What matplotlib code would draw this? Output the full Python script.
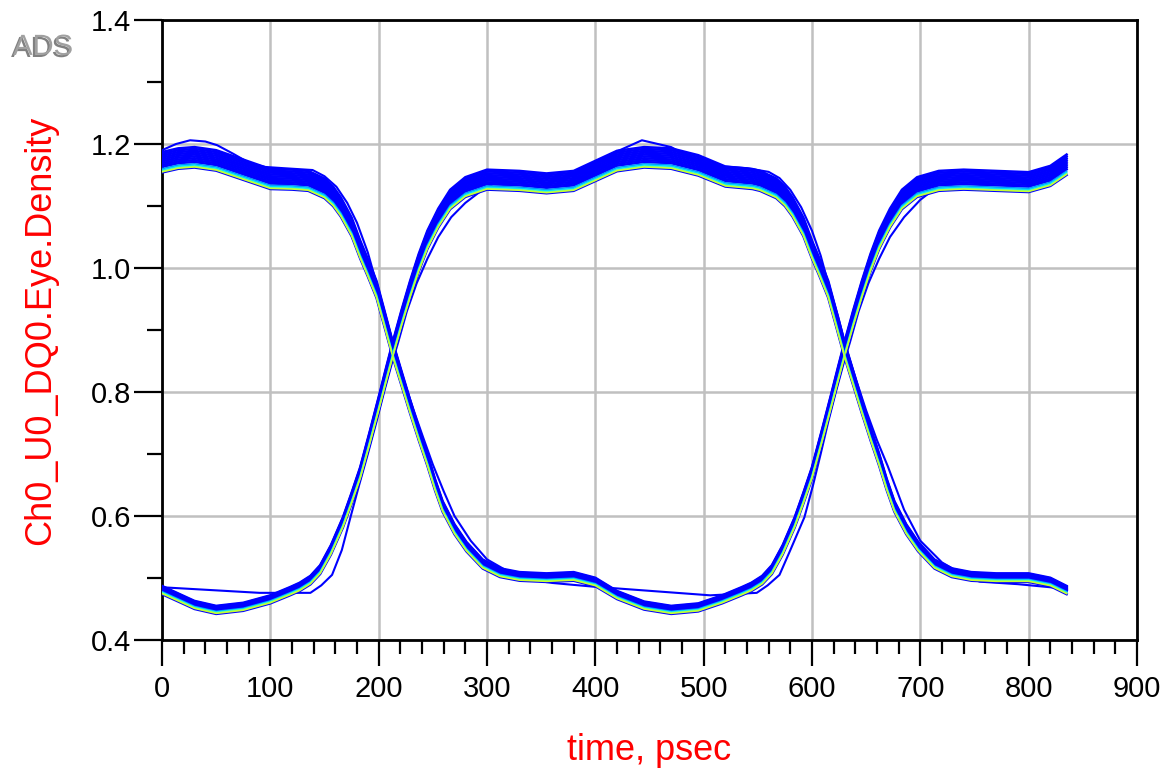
import numpy as np
import matplotlib.pyplot as plt
import matplotlib.patheffects as pe

plt.rcParams['font.family'] = ['Liberation Sans', 'DejaVu Sans']

# 眼图基准波形 A: 高 -> 下降 -> 低 -> 上升 -> 高
t_a = [0, 15, 30, 50, 75, 100, 120, 135, 150, 158, 165, 175, 183, 190, 198, 205,
       213, 221, 229, 237, 245, 252, 259, 270, 281, 296, 312, 330, 355, 380, 400,
       420, 445, 470, 495, 517, 535, 544, 554, 563, 573, 584, 592, 600, 609, 618,
       624, 630, 638, 646, 654, 662, 672, 683, 697, 717, 740, 770, 800, 820, 835]
v_a = [1.170, 1.176, 1.178, 1.173, 1.158, 1.143, 1.142, 1.140, 1.128, 1.115, 1.098,
       1.066, 1.029, 1.000, 0.965, 0.920, 0.868, 0.822, 0.776, 0.732, 0.690, 0.650,
       0.615, 0.578, 0.550, 0.522, 0.508, 0.502, 0.500, 0.502, 0.493, 0.472, 0.455,
       0.448, 0.452, 0.465, 0.478, 0.485, 0.496, 0.513, 0.545, 0.589, 0.628, 0.669,
       0.727, 0.787, 0.828, 0.868, 0.918, 0.965, 1.008, 1.045, 1.080, 1.110, 1.130,
       1.140, 1.142, 1.140, 1.138, 1.148, 1.166]

# 基准波形 B: 低 -> 上升 -> 高 -> 下降 -> 低
t_b = [0, 15, 30, 50, 75, 100, 118, 127, 137, 146, 156, 167, 175, 183, 192, 201,
       207, 213, 221, 229, 237, 245, 255, 266, 280, 300, 330, 355, 380, 400, 420,
       445, 470, 495, 520, 545, 552, 567, 575, 582, 592, 600, 607, 615, 622, 630,
       638, 646, 654, 662, 669, 676, 687, 698, 713, 729, 747, 770, 800, 820, 835]
v_b = [0.480, 0.468, 0.456, 0.448, 0.453, 0.465, 0.478, 0.485, 0.496, 0.513, 0.545,
       0.589, 0.628, 0.669, 0.727, 0.787, 0.828, 0.868, 0.918, 0.965, 1.008, 1.045,
       1.080, 1.110, 1.130, 1.142, 1.140, 1.136, 1.140, 1.156, 1.172, 1.178, 1.176,
       1.165, 1.147, 1.143, 1.140, 1.128, 1.115, 1.098, 1.066, 1.029, 1.000, 0.965,
       0.920, 0.868, 0.822, 0.776, 0.732, 0.690, 0.650, 0.615, 0.578, 0.550, 0.522,
       0.508, 0.502, 0.500, 0.500, 0.493, 0.480]

# 每条轨迹在高/低电平处的偏移
hi_off = [0.017, 0.014, 0.011, 0.008, 0.005, 0.002, -0.001, -0.004, -0.007,
          -0.010, -0.012, -0.014, -0.015, -0.016]
lo_off = [0.007, 0.006, 0.005, 0.004, 0.003, 0.002, 0.001, 0.000, -0.001,
          -0.002, -0.003, -0.004, -0.005, -0.006]
trace_colors = ['#0000ff'] * 9 + ['#0090ff', '#00d8ff', '#40ffc0', '#c8ff30', '#0000ff']

# 偏离主带的个别轨迹
outer1_t = [0, 13, 26, 40, 51, 66, 81, 95, 112, 139, 150, 161, 171, 180, 190, 198,
            206, 215, 223, 232, 241, 250, 260, 270, 285, 300, 320]
outer1_v = [1.190, 1.200, 1.206, 1.204, 1.198, 1.184, 1.169, 1.163, 1.161, 1.158,
            1.148, 1.131, 1.105, 1.073, 1.025, 0.975, 0.925, 0.868, 0.820, 0.772,
            0.727, 0.683, 0.640, 0.600, 0.560, 0.530, 0.510]
outer2_t = [360, 380, 400, 420, 443, 470, 500, 540, 560, 570, 580, 590, 600, 608,
            615, 624, 632, 641, 650, 660, 670, 685, 700, 720, 740]
outer2_v = [1.140, 1.150, 1.170, 1.188, 1.206, 1.195, 1.166, 1.161, 1.155, 1.145,
            1.126, 1.098, 1.060, 1.020, 0.975, 0.922, 0.868, 0.818, 0.770, 0.722,
            0.680, 0.610, 0.560, 0.525, 0.505]
ret1_t = [0, 90, 137, 147, 157, 166, 174, 182, 190, 198, 205, 212, 218, 226, 235,
          245, 255, 267, 280, 295, 310]
ret1_v = [0.485, 0.476, 0.476, 0.488, 0.505, 0.545, 0.598, 0.650, 0.700, 0.752,
          0.800, 0.845, 0.880, 0.930, 0.975, 1.015, 1.050, 1.082, 1.105, 1.125, 1.140]
ret2_t = [300, 330, 360, 398, 506, 549, 559, 570, 580, 593, 601, 608, 615, 622,
          629, 635, 643, 652, 662, 672, 685, 700, 715]
ret2_v = [0.520, 0.500, 0.492, 0.486, 0.472, 0.476, 0.488, 0.505, 0.545, 0.598,
          0.650, 0.700, 0.752, 0.800, 0.845, 0.880, 0.930, 0.975, 1.015, 1.050,
          1.082, 1.110, 1.130]
tail_t = [700, 720, 755, 790, 826, 835]
tail_v = [0.545, 0.515, 0.494, 0.490, 0.484, 0.480]


def shifted(v, dv_hi, dv_lo):
    v = np.asarray(v, float)
    w = np.clip((v - 0.47) / 0.70, 0, 1)
    return v + dv_hi * w + dv_lo * (1 - w)


fig = plt.figure(figsize=(11.62, 7.69), dpi=100)
ax = fig.add_axes([0.1394, 0.1678, 0.8391, 0.8062])

# 先画蓝色轨迹，再画密度较高的浅色轨迹
for t, v in [(t_a, v_a), (t_b, v_b)]:
    for dh, dl, c in zip(hi_off, lo_off, trace_colors):
        if c == '#0000ff':
            ax.plot(t, shifted(v, dh, dl), color=c, lw=1.8, zorder=3)

for t, v in [(outer1_t, outer1_v), (outer2_t, outer2_v), (ret1_t, ret1_v),
             (ret2_t, ret2_v), (tail_t, tail_v)]:
    ax.plot(t, v, color='#0000ff', lw=1.5, zorder=3)

for t, v in [(t_a, v_a), (t_b, v_b)]:
    for dh, dl, c in zip(hi_off, lo_off, trace_colors):
        if c != '#0000ff':
            ax.plot(t, shifted(v, dh, dl), color=c, lw=1.2, zorder=4)

# 坐标轴
ax.set_xlim(0, 900)
ax.set_ylim(0.4, 1.4)
ax.set_xticks(np.arange(0, 901, 100))
ax.set_xticks(np.arange(0, 901, 20), minor=True)
ax.set_yticks([0.4, 0.6, 0.8, 1.0, 1.2, 1.4])
ax.set_yticks([0.5, 0.7, 0.9, 1.1, 1.3], minor=True)
ax.set_yticklabels(['0.4', '0.6', '0.8', '1.0', '1.2', '1.4'])
ax.grid(True, which='major', color='#c0c0c0', lw=1.8, zorder=0)
ax.set_axisbelow(True)
for s in ax.spines.values():
    s.set_linewidth(2)
    s.set_color('black')
ax.tick_params(axis='x', which='major', length=19, width=1.6, labelsize=21, pad=6)
ax.tick_params(axis='x', which='minor', length=10, width=1.6)
ax.tick_params(axis='y', which='major', length=20, width=1.6, labelsize=21, pad=2)
ax.tick_params(axis='y', which='minor', length=11, width=1.6)

ax.set_xlabel('time, psec', color='red', fontsize=26, labelpad=22)
ax.set_ylabel('Ch0_U0_DQ0.Eye.Density', color='red', fontsize=26, labelpad=24)

fig.text(0.037, 0.939, 'ADS', color='#a0a0a0', fontsize=21, ha='center', va='center',
         path_effects=[pe.withSimplePatchShadow(offset=(-1.5, -1.5), shadow_rgbFace='#606060', alpha=0.8)])

fig.savefig('out.png', dpi=100)
